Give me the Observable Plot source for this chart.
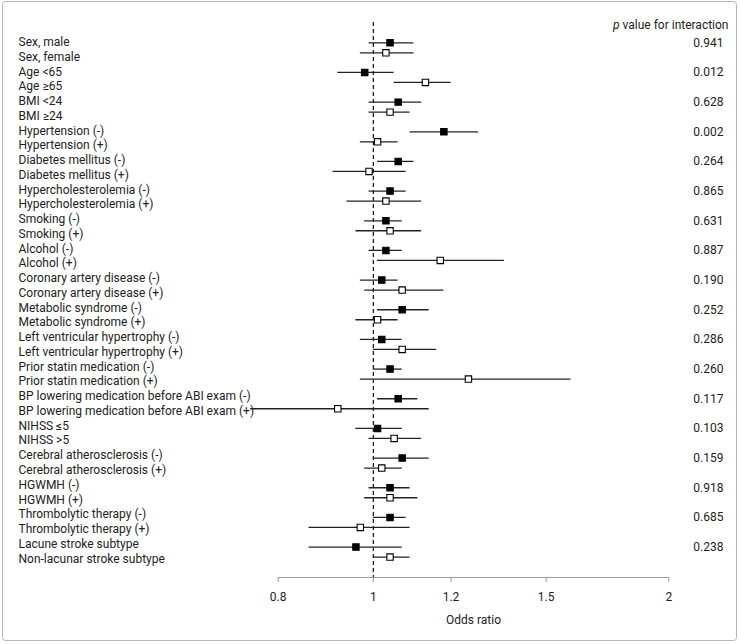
<!DOCTYPE html>
<html>
<head>
<meta charset="utf-8">
<script src="https://cdn.jsdelivr.net/npm/d3@7"></script>
<script src="https://cdn.jsdelivr.net/npm/@observablehq/plot@0.6"></script>
<style>
  html, body { margin: 0; padding: 0; background: #fff; }
  #chart { position: relative; width: 740px; height: 644px; }
</style>
</head>
<body>
<div id="chart"></div>
<script>
const labels = [
  "Sex, male","Sex, female","Age <65","Age \u226565","BMI <24","BMI \u226524",
  "Hypertension (-)","Hypertension (+)","Diabetes mellitus (-)","Diabetes mellitus (+)",
  "Hypercholesterolemia (-)","Hypercholesterolemia (+)","Smoking (-)","Smoking (+)",
  "Alcohol (-)","Alcohol (+)","Coronary artery disease (-)","Coronary artery disease (+)",
  "Metabolic syndrome (-)","Metabolic syndrome (+)","Left ventricular hypertrophy (-)",
  "Left ventricular hypertrophy (+)","Prior statin medication (-)","Prior statin medication (+)",
  "BP lowering medication before ABI exam (-)","BP lowering medication before ABI exam (+)",
  "NIHSS \u22645","NIHSS >5","Cerebral atherosclerosis (-)","Cerebral atherosclerosis (+)",
  "HGWMH (-)","HGWMH (+)","Thrombolytic therapy (-)","Thrombolytic therapy (+)",
  "Lacune stroke subtype","Non-lacunar stroke subtype"
];
const oddsRatio = [1.04,1.03,0.98,1.13,1.06,1.04,1.18,1.01,1.06,0.99,1.04,1.03,1.03,1.04,1.03,1.17,1.02,1.07,1.07,1.01,1.02,1.07,1.04,1.25,1.06,0.92,1.01,1.05,1.07,1.02,1.04,1.04,1.04,0.97,0.96,1.04];
const ciLow    = [0.99,0.97,0.92,1.05,0.99,0.99,1.09,0.97,1.01,0.91,0.99,0.94,0.98,0.96,0.99,1.01,0.97,0.98,1.01,0.96,0.97,1.00,1.00,0.97,1.01,0.75,0.96,0.99,1.00,0.98,0.99,0.98,1.00,0.86,0.86,1.00];
const ciHigh   = [1.10,1.10,1.05,1.20,1.12,1.09,1.28,1.06,1.10,1.08,1.08,1.12,1.07,1.12,1.07,1.36,1.06,1.18,1.14,1.06,1.07,1.16,1.07,1.59,1.11,1.14,1.07,1.12,1.14,1.07,1.09,1.11,1.08,1.09,1.07,1.09];
const pValues  = ["0.941","0.012","0.628","0.002","0.264","0.865","0.631","0.887","0.190","0.252","0.286","0.260","0.117","0.103","0.159","0.918","0.685","0.238"];
const xTicks   = [0.8, 1, 1.2, 1.5, 2];
const xTickLabels = ["0.8", "1", "1.2", "1.5", "2"];

// layout constants (not data)
const pairOffset = 0.674;   // second row of a pair, in row units
const labelStep = 0.995;
const axisRow = 36.05;      // axis line position in row units
const tickLen = 0.34;       // tick length in row units

const rows = labels.map((label, i) => ({
  label,
  or: oddsRatio[i], lo: ciLow[i], hi: ciHigh[i],
  filled: i % 2 === 0,
  yPoint: 2 * Math.floor(i / 2) + (i % 2) * pairOffset,
  yLabel: i * labelStep - 0.04
}));
const pRows = pValues.map((p, k) => ({p, y: 2 * k}));
const tickRows = xTicks.map((v, i) => ({v, t: xTickLabels[i]}));

const FONT = "Roboto, 'Noto Sans', sans-serif";

const plot = Plot.plot({
  width: 740,
  height: 644,
  marginTop: 22,
  marginBottom: 67,
  marginLeft: 278,
  marginRight: 72,
  style: {fontFamily: FONT, fontSize: "12px", color: "#222", background: "#fff"},
  x: {type: "log", domain: [0.8, 2], range: [277.7, 668.3], axis: null},
  y: {domain: [0, 35], range: [42.3, 561.4], axis: null},
  marks: [
    Plot.ruleX([1], {stroke: "#111", strokeWidth: 1.2, strokeDasharray: "4,3"}),
    Plot.frame({anchor: "bottom", stroke: "#999"}),
    Plot.ruleX(tickRows, {x: "v", y1: axisRow, y2: axisRow + tickLen, stroke: "#999"}),
    Plot.text(tickRows, {x: "v", text: "t", frameAnchor: "bottom", dy: 23,
      fill: "#222", fontSize: 12}),
    Plot.text(["Odds ratio"], {frameAnchor: "bottom", dy: 46, fill: "#222", fontSize: 12}),
    Plot.ruleY(rows, {y: "yPoint", x1: "lo", x2: "hi", stroke: "#222", strokeWidth: 1.3}),
    Plot.dot(rows, {x: "or", y: "yPoint", symbol: "square", r: 3.6,
      fill: d => d.filled ? "#000" : "#fff", stroke: "#000", strokeWidth: 1.1}),
    Plot.text(rows, {y: "yLabel", text: "label", frameAnchor: "left", dx: -260,
      textAnchor: "start", fill: "#222", fontSize: 12}),
    Plot.text(pRows, {y: "y", text: "p", frameAnchor: "right", dx: 55,
      textAnchor: "end", fill: "#222", fontSize: 12}),
    Plot.text(["p value for interaction"], {frameAnchor: "top-right", dx: 60, dy: -2,
      textAnchor: "end", fill: "#222", fontSize: 12})
  ]
});

// italic p in header
d3.select(plot).selectAll("text").filter(function() {
  return this.textContent === "p value for interaction";
}).each(function() {
  const t = d3.select(this);
  t.text(null);
  t.append("tspan").attr("font-style", "italic").text("p");
  t.append("tspan").text(" value for interaction");
});

// outer border
d3.select(plot).insert("rect", ":first-child")
  .attr("x", 2.5).attr("y", 1.5).attr("width", 734).attr("height", 639)
  .attr("rx", 3).attr("fill", "#fff").attr("stroke", "#b5b5b5");

document.getElementById("chart").appendChild(plot);
</script>
</body>
</html>
